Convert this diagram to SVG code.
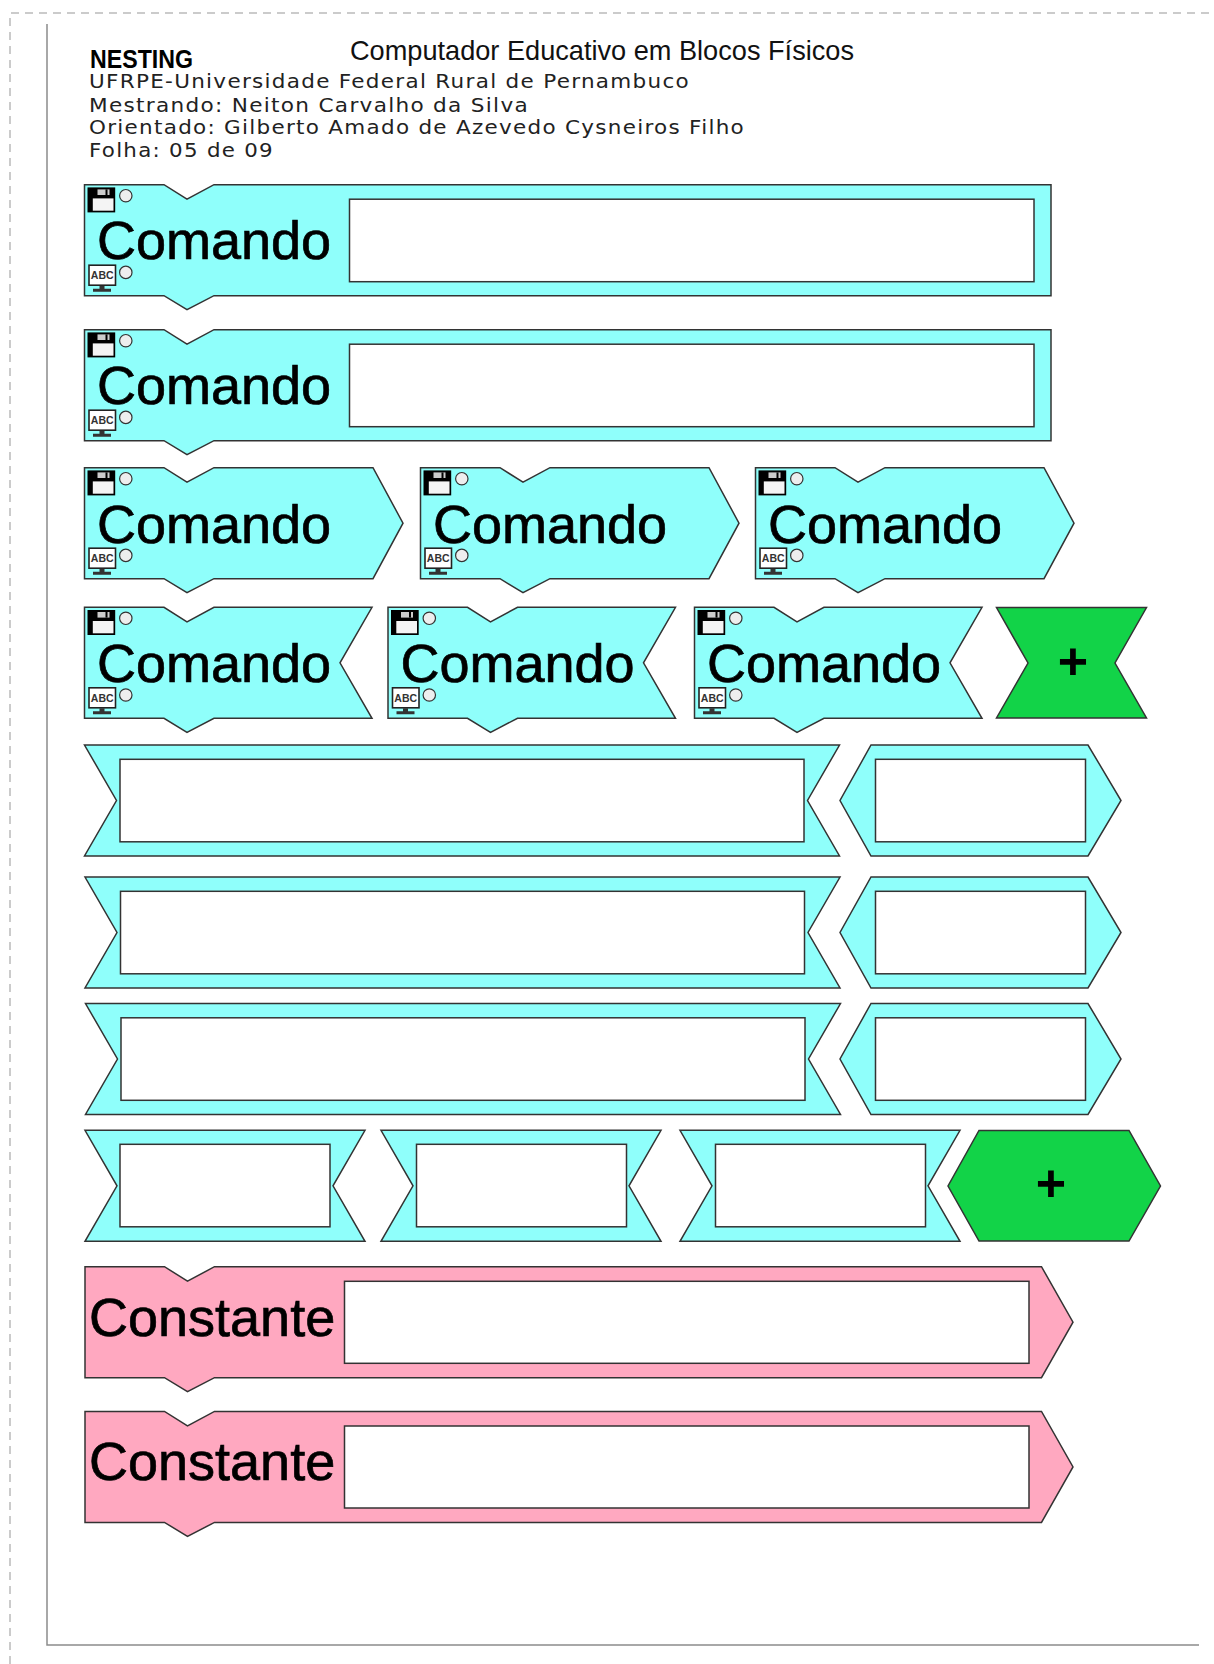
<svg xmlns="http://www.w3.org/2000/svg" xmlns:xlink="http://www.w3.org/1999/xlink" width="1214" height="1664" viewBox="0 0 1214 1664">
<style>
.s{stroke:#333;stroke-width:1.5;stroke-linejoin:miter}
.c{fill:#8ffffb}.p{fill:#ffa8c0}.g{fill:#12d348}.w{fill:#fff}
.big{font-family:"Liberation Sans",Arial,sans-serif;font-size:54px;fill:#000;stroke:#000;stroke-width:.7}
.plus{font-family:"Liberation Sans",Arial,sans-serif;font-weight:bold;font-size:52px;fill:#000;text-anchor:middle}
.cad{font-family:"DejaVu Sans",sans-serif;font-size:20px;letter-spacing:1.2px;fill:#222}
.frame{fill:none;stroke:#8c8c8c;stroke-width:1.5}
.dash{fill:none;stroke:#bbb;stroke-width:1.5;stroke-dasharray:8 6}
</style>
<defs>
<g id="ic">
<path d="M3 2.7H30.7V27.7H3Z" fill="#000"/>
<rect x="8.3" y="13.7" width="20.7" height="12.3" fill="#f4f4f4"/>
<rect x="13" y="4.7" width="12" height="5.6" fill="#ccc"/>
<rect x="21" y="4.7" width="2" height="5.6" fill="#000"/>
<circle cx="41.3" cy="11" r="6.2" fill="#eee" stroke="#333" stroke-width="1.2"/>
<rect x="4.5" y="80.5" width="26.5" height="20" fill="#fff" stroke="#222" stroke-width="1.6"/>
<text x="17.7" y="94.5" font-family="'Liberation Sans',sans-serif" font-size="10.5" font-weight="bold" text-anchor="middle" fill="#333">ABC</text>
<path d="M15 101H20V104H26.5V107H8.5V104H15Z" fill="#333"/>
<circle cx="41.3" cy="87.7" r="6.2" fill="#eee" stroke="#333" stroke-width="1.2"/>
</g>
<path id="cmdLong" d="M0 0H79.5L102.5 14.5L129.5 0H966.5V111H129.5L102.5 125L79.5 111H0Z"/>
<path id="cmdArrow" d="M0 0H79.5L102.5 14.5L129.5 0H288.5L318.5 55.5L288.5 111H129.5L102.5 125L79.5 111H0Z"/>
<path id="cmdSwallow" d="M0 0H79.5L102.5 14.5L129.5 0H287.5L255.5 55.5L287.5 111H129.5L102.5 125L79.5 111H0Z"/>
<path id="barLong" d="M0 0H755L723 55.5L755 111H0L32 55.5Z"/>
<path id="hexS" d="M31 0H248L281 55.5L248 111H31L0 55.5Z"/>
<path id="barS" d="M0 0H280L248 55.5L280 111H0L32 55.5Z"/>
<path id="constant" d="M0 0H79.5L102.5 14.5L129.5 0H956.5L988 55.5L956.5 111H129.5L102.5 125L79.5 111H0Z"/>
</defs>

<g id="frame">
<path class="dash" d="M10 1664V13H1214"/>
<path class="frame" d="M47 24V1645H1199"/>
</g>

<g id="header">
<text x="90" y="67.5" font-family="'Liberation Sans',sans-serif" font-weight="bold" font-size="25" textLength="103" lengthAdjust="spacingAndGlyphs" fill="#000">NESTING</text>
<text x="350" y="60" font-family="'Liberation Sans',sans-serif" font-size="27.5" textLength="504" lengthAdjust="spacingAndGlyphs" fill="#111">Computador Educativo em Blocos Físicos</text>
<text class="cad" x="89" y="88" textLength="601" lengthAdjust="spacingAndGlyphs">UFRPE-Universidade Federal Rural de Pernambuco</text>
<text class="cad" x="89" y="112" textLength="440" lengthAdjust="spacingAndGlyphs">Mestrando: Neiton Carvalho da Silva</text>
<text class="cad" x="89" y="134" textLength="656" lengthAdjust="spacingAndGlyphs">Orientado: Gilberto Amado de Azevedo Cysneiros Filho</text>
<text class="cad" x="89" y="157" textLength="185" lengthAdjust="spacingAndGlyphs">Folha: 05 de 09</text>
</g>

<g id="cmd-long-1" transform="translate(84.5 184.7)"><use xlink:href="#cmdLong" class="s c"/><rect class="s w" x="265" y="14.5" width="684.5" height="82.5"/><use xlink:href="#ic"/><text class="big" x="12.5" y="74.5">Comando</text></g>
<g id="cmd-long-2" transform="translate(84.5 329.7)"><use xlink:href="#cmdLong" class="s c"/><rect class="s w" x="265" y="14.5" width="684.5" height="82.5"/><use xlink:href="#ic"/><text class="big" x="12.5" y="74.5">Comando</text></g>

<g id="cmd-arrow-1" transform="translate(84.5 467.7)"><use xlink:href="#cmdArrow" class="s c"/><use xlink:href="#ic"/><text class="big" x="12.5" y="75">Comando</text></g>
<g id="cmd-arrow-2" transform="translate(420.5 467.7)"><use xlink:href="#cmdArrow" class="s c"/><use xlink:href="#ic"/><text class="big" x="12.5" y="75">Comando</text></g>
<g id="cmd-arrow-3" transform="translate(755.5 467.7)"><use xlink:href="#cmdArrow" class="s c"/><use xlink:href="#ic"/><text class="big" x="12.5" y="75">Comando</text></g>

<g id="cmd-swallow-1" transform="translate(84.5 607.3)"><use xlink:href="#cmdSwallow" class="s c"/><use xlink:href="#ic"/><text class="big" x="12.5" y="74.5">Comando</text></g>
<g id="cmd-swallow-2" transform="translate(388 607.3)"><use xlink:href="#cmdSwallow" class="s c"/><use xlink:href="#ic"/><text class="big" x="12.5" y="74.5">Comando</text></g>
<g id="cmd-swallow-3" transform="translate(694.5 607.3)"><use xlink:href="#cmdSwallow" class="s c"/><use xlink:href="#ic"/><text class="big" x="12.5" y="74.5">Comando</text></g>

<g id="plus-1" transform="translate(996.5 607.5)"><path class="s g" d="M0 0H150L118.5 55.5L150 110.5H0L31.5 55.5Z"/><text class="plus" x="76.5" y="71.5">+</text></g>

<g id="bar-1" transform="translate(84.5 745)"><use xlink:href="#barLong" class="s c"/><rect class="s w" x="35.5" y="14.3" width="684" height="82.5"/></g>
<g id="hex-1" transform="translate(840 745)"><use xlink:href="#hexS" class="s c"/><rect class="s w" x="35.5" y="14.3" width="210" height="82.5"/></g>
<g id="bar-2" transform="translate(85 877)"><use xlink:href="#barLong" class="s c"/><rect class="s w" x="35.5" y="14.3" width="684" height="82.5"/></g>
<g id="hex-2" transform="translate(840 877)"><use xlink:href="#hexS" class="s c"/><rect class="s w" x="35.5" y="14.3" width="210" height="82.5"/></g>
<g id="bar-3" transform="translate(85.5 1003.5)"><use xlink:href="#barLong" class="s c"/><rect class="s w" x="35.5" y="14.3" width="684" height="82.5"/></g>
<g id="hex-3" transform="translate(840 1003.5)"><use xlink:href="#hexS" class="s c"/><rect class="s w" x="35.5" y="14.3" width="210" height="82.5"/></g>

<g id="bar-s-1" transform="translate(85 1130.3)"><use xlink:href="#barS" class="s c"/><rect class="s w" x="35" y="14" width="210" height="82.5"/></g>
<g id="bar-s-2" transform="translate(381 1130.3)"><use xlink:href="#barS" class="s c"/><rect class="s w" x="35.5" y="14" width="210" height="82.5"/></g>
<g id="bar-s-3" transform="translate(680 1130.3)"><use xlink:href="#barS" class="s c"/><rect class="s w" x="35.5" y="14" width="210" height="82.5"/></g>

<g id="plus-2" transform="translate(948 1130.5)"><path class="s g" d="M31 0H181L212.5 55.5L181 110.5H31L0 55.5Z"/><text class="plus" x="103" y="70.5">+</text></g>

<g id="const-1" transform="translate(85 1266.7)"><use xlink:href="#constant" class="s p"/><rect class="s w" x="259.5" y="14.6" width="684.5" height="82"/><text class="big" x="4" y="69">Constante</text></g>
<g id="const-2" transform="translate(85 1411.4)"><use xlink:href="#constant" class="s p"/><rect class="s w" x="259.5" y="14.6" width="684.5" height="82"/><text class="big" x="4" y="69">Constante</text></g>
</svg>
